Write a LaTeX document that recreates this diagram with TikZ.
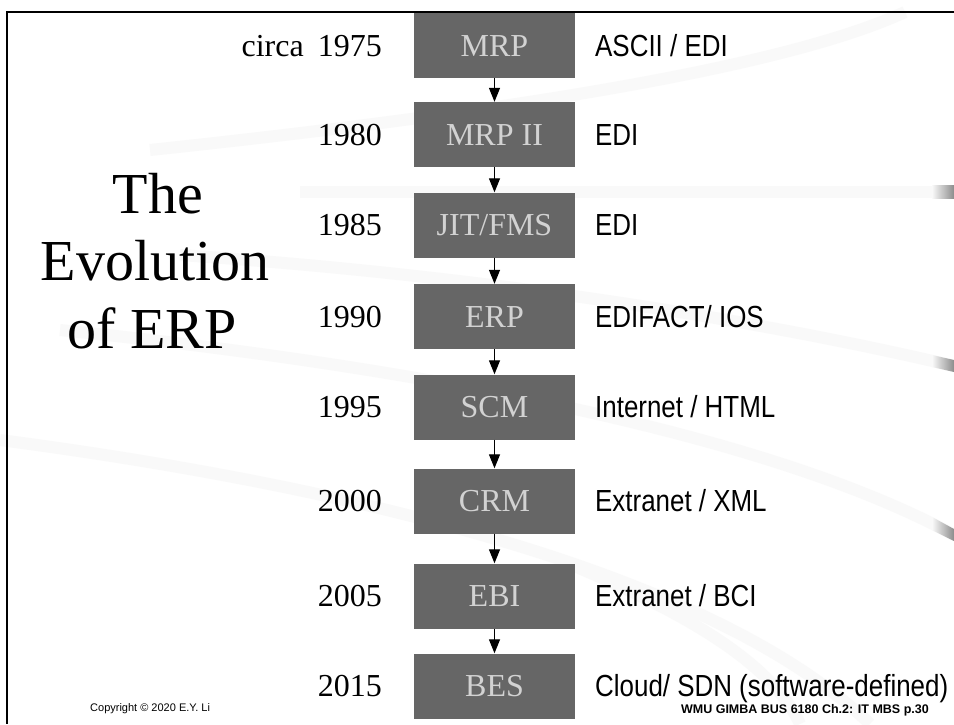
\documentclass[tikz,border=0pt]{standalone}
\usepackage{fontspec}
\setmainfont{Liberation Serif}
\newfontfamily\arialfont{Liberation Sans}
\newfontfamily\arialnarrow[FakeStretch=0.85]{Liberation Sans}
\usetikzlibrary{arrows.meta}
\definecolor{boxgray}{HTML}{666666}
\definecolor{labgray}{HTML}{D2D2D2}
\definecolor{swoosh}{HTML}{F9F9F9}
\definecolor{swooshend}{HTML}{8C8C8C}
\begin{document}
\begin{tikzpicture}[x=1pt,y=-1pt,
  erabox/.style={fill=boxgray, minimum width=161pt, minimum height=65pt, inner sep=0pt,
    text=labgray, text height=21.5pt, text depth=0pt, font=\fontsize{32}{36}\selectfont},
  yearlab/.style={anchor=east, inner sep=0pt, text height=21.6pt, text depth=0pt,
    font=\fontsize{32}{36}\selectfont},
  techlab/.style={anchor=west, inner sep=0pt, text height=21.8pt, text depth=0pt,
    font=\arialnarrow\fontsize{30.5}{34}\selectfont},
  titlelab/.style={anchor=base, inner sep=0pt, font=\fontsize{58}{64}\selectfont},
  flow/.style={-{Triangle[width=11pt,length=14pt]}, line width=1.3pt},
  band/.style={draw=swoosh, line width=12pt, line cap=butt}]
\useasboundingbox (0,0) rectangle (954,724);
\fill[white] (0,0) rectangle (954,724);
% faint background swooshes
\draw[band] (150,150) .. controls (480,115) and (780,70) .. (905,12);
\draw[band] (300,191.5) -- (954,191.5);
\draw[band] (180,255) .. controls (480,275) and (760,320) .. (954,366);
\draw[band] (60,330) .. controls (450,370) and (780,440) .. (954,535);
\draw[band] (0,440) .. controls (380,490) and (720,580) .. (870,724);
\draw[band] (560,560) .. controls (680,610) and (770,660) .. (800,724);
\shade[left color=swoosh, right color=swooshend] (932,185) rectangle (954,198);
\shade[left color=swoosh, right color=swooshend] (932,355) -- (954,360) -- (954,372) -- (932,367) -- cycle;
\shade[left color=swoosh, right color=swooshend] (932,517) -- (954,529) -- (954,541) -- (932,530) -- cycle;
% frame
\draw[line width=2.3pt] (954,12) -- (7,12) -- (7,724);
% title
\node[titlelab] (t1) at (158,213) {The};
\node[titlelab] (t2) at (155,280) {Evolution};
\node[titlelab] (t3) at (152,348) {of ERP};
% era boxes
\node[erabox] (b1) at (494.5,45.5) {MRP};
\node[erabox] (b2) at (494.5,134.5) {MRP II};
\node[erabox] (b3) at (494.5,225) {JIT/FMS};
\node[erabox] (b4) at (494.5,316.5) {ERP};
\node[erabox] (b5) at (494.5,407) {SCM};
\node[erabox] (b6) at (494.5,501) {CRM};
\node[erabox] (b7) at (494.5,596) {EBI};
\node[erabox] (b8) at (494.5,686) {BES};
% years
\node[yearlab] (y1) at (382,46) {circa\hspace{14pt}1975};
\node[yearlab] (y2) at (382,134.5) {1980};
\node[yearlab] (y3) at (382,225) {1985};
\node[yearlab] (y4) at (382,316.5) {1990};
\node[yearlab] (y5) at (382,407) {1995};
\node[yearlab] (y6) at (382,501) {2000};
\node[yearlab] (y7) at (382,596) {2005};
\node[yearlab] (y8) at (382,686) {2015};
% technologies
\node[techlab] (c1) at (595,46) {ASCII / EDI};
\node[techlab] (c2) at (595,134.5) {EDI};
\node[techlab] (c3) at (595,225) {EDI};
\node[techlab] (c4) at (595,316.5) {EDIFACT/ IOS};
\node[techlab] (c5) at (595,407) {Internet / HTML};
\node[techlab] (c6) at (595,501) {Extranet / XML};
\node[techlab] (c7) at (595,596) {Extranet / BCI};
\node[techlab] (c8) at (595,686) {Cloud/ SDN (software-defined)};
% arrows
\draw[flow] (b1.south) -- (b2.north);
\draw[flow] (b2.south) -- (b3.north);
\draw[flow] (b3.south) -- (b4.north);
\draw[flow] (b4.south) -- (b5.north);
\draw[flow] (b5.south) -- (b6.north);
\draw[flow] (b6.south) -- (b7.north);
\draw[flow] (b7.south) -- (b8.north);
% footer
\node[anchor=west, inner sep=0pt, font=\arialfont\fontsize{11}{13}\selectfont] (copy) at (90,709) {Copyright \textcopyright\ 2020 E.Y. Li};
\node[anchor=east, inner sep=0pt, font=\arialfont\bfseries\fontsize{12.5}{14}\selectfont] (course) at (929,710) {WMU GIMBA BUS 6180 Ch.2: IT MBS p.30};
\end{tikzpicture}
\end{document}
